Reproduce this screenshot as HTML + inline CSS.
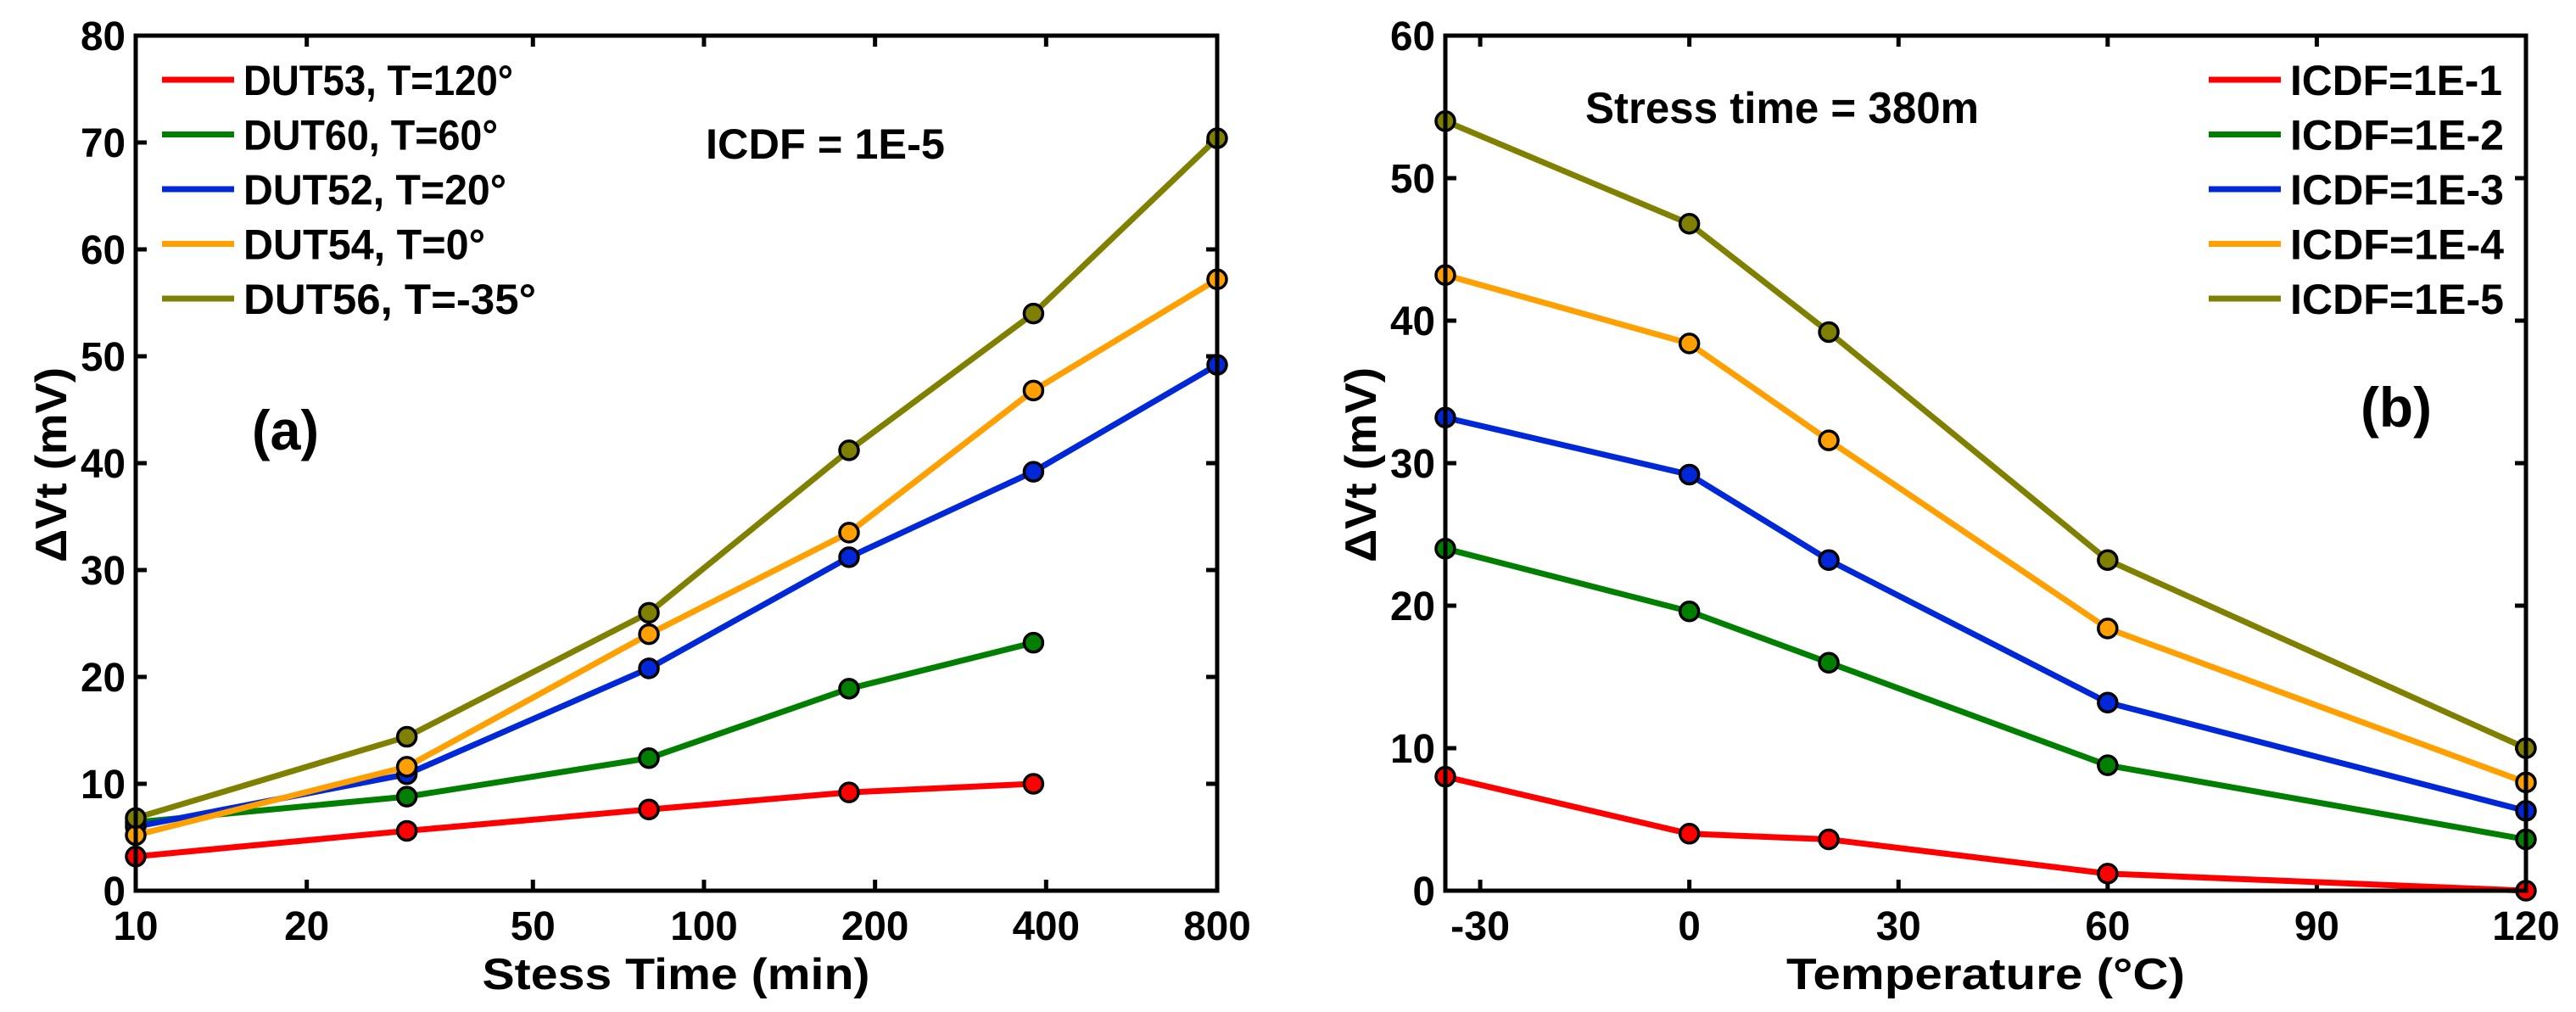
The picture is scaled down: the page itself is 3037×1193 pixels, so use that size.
<!DOCTYPE html>
<html><head><meta charset="utf-8"><style>html,body{margin:0;padding:0;background:#fff}svg{display:block}text{font-family:"Liberation Sans",Arial,sans-serif;font-weight:bold;fill:#000}</style></head>
<body>
<svg id="fig" width="3037" height="1193" viewBox="0 0 3037 1193" xmlns="http://www.w3.org/2000/svg"></svg>
<script>
// ---- Panel (a) data ----
const timesA = [10, 30, 80, 180, 380, 800];
const seriesNamesA = ["DUT53, T=120°", "DUT60, T=60°", "DUT52, T=20°", "DUT54, T=0°", "DUT56, T=-35°"];
const redA = [3.2, 5.6, 7.6, 9.2, 10.0];
const greenA = [6.4, 8.8, 12.4, 18.9, 23.2];
const blueA = [6.0, 10.9, 20.8, 31.2, 39.2, 49.2];
const orangeA = [5.2, 11.6, 24.0, 33.5, 46.8, 57.2];
const oliveA = [6.8, 14.4, 26.0, 41.2, 54.0, 70.4];
const xTicksA = [10, 20, 50, 100, 200, 400, 800];
const yTicksA = [0, 10, 20, 30, 40, 50, 60, 70, 80];
// ---- Panel (b) data ----
const tempsB = [-35, 0, 20, 60, 120];
const seriesNamesB = ["ICDF=1E-1", "ICDF=1E-2", "ICDF=1E-3", "ICDF=1E-4", "ICDF=1E-5"];
const icdf1 = [8.0, 4.0, 3.6, 1.2, 0];
const icdf2 = [24.0, 19.6, 16.0, 8.8, 3.6];
const icdf3 = [33.2, 29.2, 23.2, 13.2, 5.6];
const icdf4 = [43.2, 38.4, 31.6, 18.4, 7.6];
const icdf5 = [54.0, 46.8, 39.2, 23.2, 10.0];
const xTicksB = [-30, 0, 30, 60, 90, 120];
const yTicksB = [0, 10, 20, 30, 40, 50, 60];

const colors = ["#ff0000", "#007f00", "#0028d9", "#ffa000", "#808000"];
const NS = "http://www.w3.org/2000/svg";
const svg = document.getElementById("fig");
function el(tag, attrs, parent) {
  const e = document.createElementNS(NS, tag);
  for (const k in attrs) e.setAttribute(k, attrs[k]);
  (parent || svg).appendChild(e);
  return e;
}
function txt(str, x, y, size, anchor, len, parent, rot) {
  const t = el("text", {x: x, y: y, "font-size": size, "text-anchor": anchor || "start"}, parent);
  if (len) { t.setAttribute("textLength", len); t.setAttribute("lengthAdjust", "spacingAndGlyphs"); }
  if (rot) t.setAttribute("transform", rot);
  t.textContent = str;
  return t;
}
function tickW(s) { let w = 0; for (const c of String(s)) w += (c === "-" ? 17 : 26.5); return w; }

function panel(cfg) {
  const g = el("g", {});
  
  
  const L = cfg.L, R = cfg.R, T = 42, B = 1050;
  const sx = cfg.sx, sy = v => B - (v - cfg.ymin) / (cfg.ymax - cfg.ymin) * (B - T);
  // ticks
  cfg.xTicks.forEach(v => {
    const x = sx(v);
    const tk = el("path", {d: `M${x},${B}V${B-13}M${x},${T}V${T+13}`, stroke: "#000", "stroke-width": 5}, g);
    
    
    const lb = txt(String(v), x, 1108, 48, "middle", tickW(v), g);
    
    
  });
  cfg.yTicks.forEach(v => {
    const y = sy(v);
    const tk = el("path", {d: `M${L},${y}H${L+13}M${R},${y}H${R-13}`, stroke: "#000", "stroke-width": 5}, g);
    
    
    const lb = txt(String(v), L - 12, y + 17, 48, "end", tickW(v), g);
    
    
  });
  // series
  cfg.series.forEach((s, i) => {
    const sg = el("g", {}, g);
    
    
    const pts = s.map((v, j) => [sx(cfg.xs[j]), sy(v)]);
    const ln = el("polyline", {points: pts.map(p => p.join(",")).join(" "), fill: "none", stroke: colors[i], "stroke-width": 7, "stroke-linejoin": "round"}, sg);
    
    
    pts.forEach(p => {
      const c = el("circle", {cx: p[0], cy: p[1], r: 11, fill: colors[i], stroke: "#000", "stroke-width": 3.5}, sg);
      
      
    });
  });
  // frame
  const fr = el("rect", {x: L, y: T, width: R - L, height: B - T, fill: "none", stroke: "#000", "stroke-width": 5}, g);
  
  
  // legend
  cfg.names.forEach((n, i) => {
    const y = 94 + i * 64.5;
    const lg = el("g", {}, g);
    
    
    el("line", {x1: cfg.legX, x2: cfg.legX + 85, y1: y, y2: y, stroke: colors[i], "stroke-width": 7}, lg);
    txt(n, cfg.legX + 96, y + 18, 50, "start", cfg.legW[i], lg);
  });
  // axis labels
  const xl = txt(cfg.xlabel, cfg.xlabelX, 1166, 52, "middle", cfg.xlabelW, g);
  
  
  const yx = L - 82;
  const yl = txt("ΔVt (mV)", yx, 548, 52, "middle", 230, g, `rotate(-90 ${yx} 548)`);
  
  
}

const LA = 160, RA = 1435;
panel({
  name: "panel-a", L: LA, R: RA, ymin: 0, ymax: 80,
  sx: v => LA + (Math.log10(v) - 1) / Math.log10(80) * (RA - LA),
  xs: timesA, xTicks: xTicksA, yTicks: yTicksA,
  series: [redA, greenA, blueA, orangeA, oliveA], names: seriesNamesA,
  legX: 191, legW: [318, 300, 310, 285, 345],
  xlabel: "Stess Time (min)", xlabelX: 797, xlabelW: 457
});
const LB = 1704, RB = 2978;
panel({
  name: "panel-b", L: LB, R: RB, ymin: 0, ymax: 60,
  sx: v => LB + (v + 35) / 155 * (RB - LB),
  xs: tempsB, xTicks: xTicksB, yTicks: yTicksB,
  series: [icdf1, icdf2, icdf3, icdf4, icdf5], names: seriesNamesB,
  legX: 2604, legW: [250, 252, 252, 252, 252],
  xlabel: "Temperature (°C)", xlabelX: 2341, xlabelW: 470
});
let a;
a = txt("ICDF = 1E-5", 832, 187, 50, "start", 282);


a = txt("(a)", 297, 530, 66, "start", 79);


a = txt("Stress time = 380m", 1869, 145, 52, "start", 464);


a = txt("(b)", 2783, 503, 66, "start", 84);


</script>
</body></html>
